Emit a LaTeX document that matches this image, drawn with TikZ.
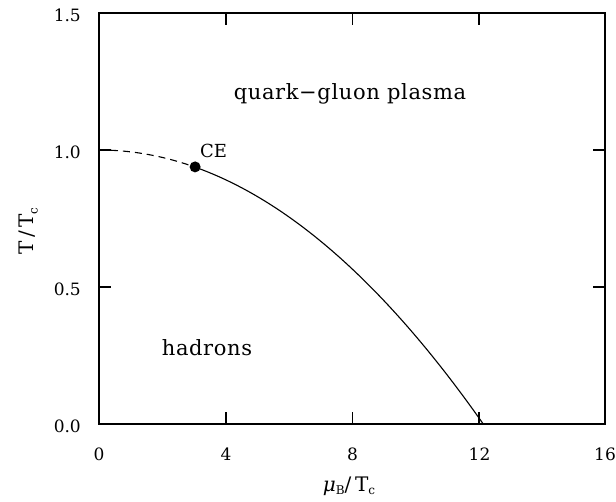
\documentclass[tikz,border=0pt]{standalone}
\usepackage{fontspec}
\setmainfont{DejaVu Serif}
\newcommand{\lowsub}[1]{\raisebox{-3.5pt}{\fontsize{12}{12}\selectfont#1}}
\begin{document}
\begin{tikzpicture}[x=1pt,y=-1pt,
  lbl/.style={font=\fontsize{17}{20}\selectfont, inner sep=0pt, anchor=base},
  ylbl/.style={font=\fontsize{17}{20}\selectfont, inner sep=0pt, anchor=base east},
  txt/.style={font=\fontsize{21}{24}\selectfont\addfontfeatures{LetterSpace=3}, inner sep=0pt, anchor=base},
  ttl/.style={font=\fontsize{20}{23}\selectfont\addfontfeatures{LetterSpace=18}, inner sep=0pt, anchor=base},
  celabel/.style={font=\fontsize{18}{21}\selectfont, inner sep=0pt, anchor=base},
  frame/.style={line width=1.4pt},
  curve/.style={line width=1.1pt}]
\useasboundingbox (0,0) rectangle (616,501);
% frame
\draw[frame] (99,13) rectangle (605,424);
% x ticks
\foreach \xx in {226,352.5,479}{
  \draw[frame] (\xx,424) -- (\xx,412);
  \draw[frame] (\xx,13) -- (\xx,25);
}
% y ticks
\foreach \yy in {150,287}{
  \draw[frame] (99,\yy) -- (111,\yy);
  \draw[frame] (605,\yy) -- (593,\yy);
}
% tick labels
\node[lbl] (x0) at (99,460) {0};
\node[lbl] (x4) at (226,460) {4};
\node[lbl] (x8) at (352.5,460) {8};
\node[lbl] (x12) at (479.5,460) {12};
\node[lbl] (x16) at (605,460) {16};
\node[ylbl] (y0) at (81,432) {0.0};
\node[ylbl] (y05) at (81,295) {0.5};
\node[ylbl] (y10) at (81,158) {1.0};
\node[ylbl] (y15) at (81,21) {1.5};
% axis titles
\node[ttl] (xt) at (349,491) {{\itshape μ}\lowsub{B}/T\lowsub{c}};
\node[ttl,rotate=90] (yt) at (34,231) {T/T\lowsub{c}};
% curve
\draw[curve,dash pattern=on 7pt off 5pt] plot[domain=0:3.04,samples=30] ({99+31.625*\x},{424-274*(1-(\x/12.15)^2)});
\draw[curve] plot[domain=3.04:12.15,samples=80] ({99+31.625*\x},{424-274*(1-(\x/12.15)^2)});
% critical endpoint
\node[circle,fill=black,inner sep=0pt,minimum size=11pt] (ce) at (195.1,166.9) {};
\node[celabel] (celbl) at (213.5,157) {CE};
% region labels
\node[txt] (qgp) at (350,99) {quark{\textminus}gluon plasma};
\node[txt] (had) at (207,355) {hadrons};
\end{tikzpicture}
\end{document}
